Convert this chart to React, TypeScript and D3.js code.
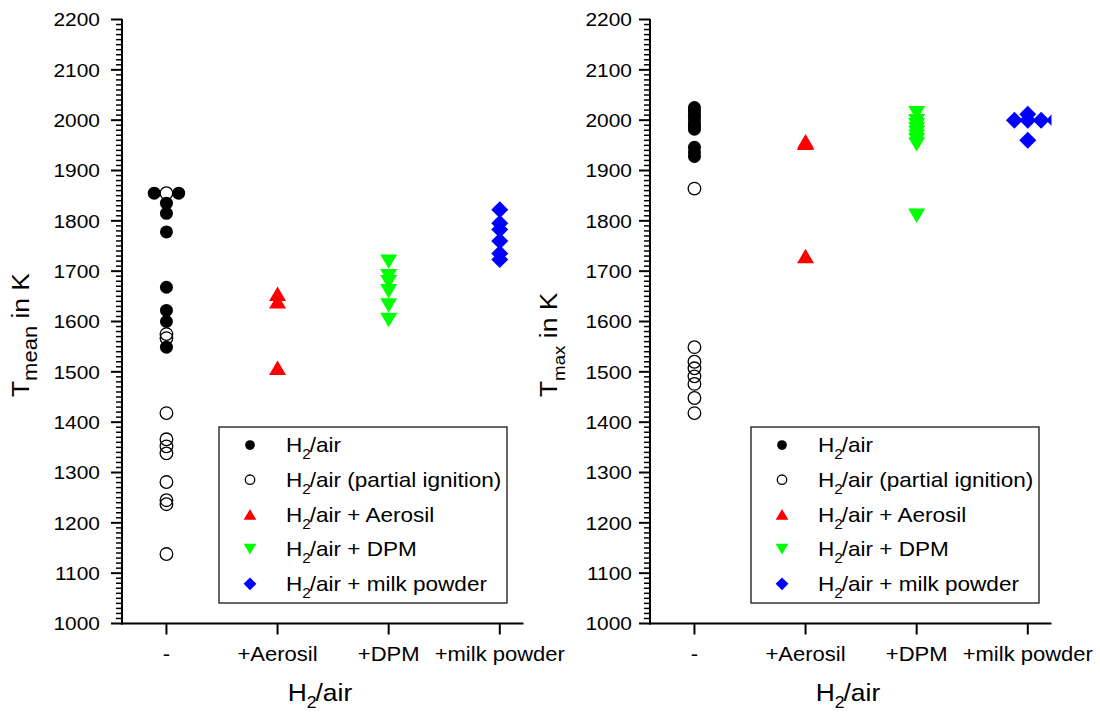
import React from 'react';
import * as d3 from 'd3';

// ---------- data ----------
const categories = ['-', '+Aerosil', '+DPM', '+milk powder'];
const yTickValues = [1000, 1100, 1200, 1300, 1400, 1500, 1600, 1700, 1800, 1900, 2000, 2100, 2200];

// [category position, temperature]
const meanH2Air: [number, number][] = [
  [0.89, 1855], [1.11, 1855], [1, 1835], [1, 1815], [1, 1778], [1, 1668], [1, 1622], [1, 1600], [1, 1549],
];
const meanPartial: [number, number][] = [
  [1, 1855], [1, 1575], [1, 1567], [1, 1418], [1, 1366], [1, 1352], [1, 1338], [1, 1281], [1, 1245], [1, 1237], [1, 1138],
];
const meanAerosil: [number, number][] = [[2, 1655], [2, 1640], [2, 1508]];
const meanDPM: [number, number][] = [[3, 1719], [3, 1690], [3, 1678], [3, 1660], [3, 1632], [3, 1603]];
const meanMilk: [number, number][] = [[4, 1822], [4, 1795], [4, 1783], [4, 1760], [4, 1735], [4, 1723]];

const maxH2Air: [number, number][] = [
  [1, 2025], [1, 2018], [1, 2010], [1, 2003], [1, 1995], [1, 1988], [1, 1982], [1, 1946], [1, 1937], [1, 1928],
];
const maxPartial: [number, number][] = [
  [1, 1864], [1, 1549], [1, 1520], [1, 1507], [1, 1491], [1, 1476], [1, 1448], [1, 1418],
];
const maxAerosil: [number, number][] = [[2, 1958], [2, 1955], [2, 1730]];
const maxDPM: [number, number][] = [
  [3, 2014], [3, 1998], [3, 1990], [3, 1982], [3, 1975], [3, 1967], [3, 1960], [3, 1952], [3, 1810],
];
const maxMilk: [number, number][] = [
  [3.88, 2000], [4, 2000], [4.12, 2000], [4.24, 2000], [4, 2012], [4, 1960],
];

const legendLabels = ['/air', '/air (partial ignition)', '/air + Aerosil', '/air + DPM', '/air + milk powder'];

// ---------- layout ----------
const W = 1100;
const HGT = 718;
const TOP = 19.5;
const BOTTOM = 623.5;
const FONT = 'Liberation Sans, Arial, Helvetica, sans-serif';
const STRETCH = 1.1;

type Shape = 'filled' | 'open' | 'up' | 'down' | 'diamond';

function markerPath(shape: Shape, cx: number, cy: number, k: number): string {
  if (shape === 'up') {
    const w = 8.5 * k, h = 7.2 * k;
    return `M${cx},${cy - h}L${cx + w},${cy + h}L${cx - w},${cy + h}Z`;
  }
  if (shape === 'down') {
    const w = 8.5 * k, h = 7.2 * k;
    return `M${cx - w},${cy - h}L${cx + w},${cy - h}L${cx},${cy + h}Z`;
  }
  const w = 8.5 * k, h = 8.5 * k;
  return `M${cx},${cy - h}L${cx + w},${cy}L${cx},${cy + h}L${cx - w},${cy}Z`;
}

function Marker({ shape, cx, cy, k = 1 }: { shape: Shape; cx: number; cy: number; k?: number }) {
  if (shape === 'filled') return <circle cx={cx} cy={cy} r={6.5 * k} fill="#000" />;
  if (shape === 'open') return <circle cx={cx} cy={cy} r={6.3 * k} fill="none" stroke="#000" strokeWidth={1.3} />;
  const color = shape === 'up' ? '#ff0000' : shape === 'down' ? '#00ff00' : '#0000ff';
  return <path d={markerPath(shape, cx, cy, k)} fill={color} />;
}

function SText({ x, y, size, anchor = 'start', rotate = false, children }: any) {
  return (
    <text
      transform={`translate(${x},${y})${rotate ? ' rotate(-90)' : ''} scale(${STRETCH},1)`}
      fontSize={size}
      fontFamily={FONT}
      textAnchor={anchor}
      fill="#000"
    >
      {children}
    </text>
  );
}

interface PanelProps {
  left: number;
  labelGap: number;
  sub: string;
  subSize: number;
  series: { shape: Shape; data: [number, number][] }[];
  legendX: number;
  id: string;
}

function Panel({ left, labelGap, sub, subSize, series, legendX, id }: PanelProps) {
  const x = d3.scaleLinear().domain([0.6, 4.2]).range([left, left + 400]);
  const y = d3.scaleLinear().domain([1000, 2200]).range([BOTTOM, TOP]);
  const minor = d3.range(1000, 2201, 10).filter((v) => v % 100 !== 0);
  const right = x(4.2);
  const legendRows = [445, 479.7, 514.4, 549.1, 583.8];
  const legendShapes: Shape[] = ['filled', 'open', 'up', 'down', 'diamond'];

  return (
    <g>
      <defs>
        <clipPath id={id}>
          <rect x={left} y={TOP - 10} width={right - left + 1.5} height={BOTTOM - TOP + 10} />
        </clipPath>
      </defs>
      <g clipPath={`url(#${id})`}>
        {series.map((s, i) => (
          <g key={i}>
            {s.data.map(([cx, cy], j) => (
              <Marker key={j} shape={s.shape} cx={x(cx)} cy={y(cy)} />
            ))}
          </g>
        ))}
      </g>
      {/* y axis */}
      <line x1={left} x2={left} y1={TOP - 0.5} y2={BOTTOM + 1} stroke="#000" strokeWidth={2} />
      {minor.map((v) => (
        <line key={v} x1={left - 6} x2={left} y1={y(v)} y2={y(v)} stroke="#000" strokeWidth={1.5} />
      ))}
      {yTickValues.map((v) => (
        <g key={v}>
          <line x1={left - 11} x2={left} y1={y(v)} y2={y(v)} stroke="#000" strokeWidth={2} />
          <SText x={left - labelGap} y={y(v) + 6.7} size={19} anchor="end">
            {v}
          </SText>
        </g>
      ))}
      {/* x axis */}
      <line x1={left - 1} x2={right + 1.5} y1={BOTTOM} y2={BOTTOM} stroke="#000" strokeWidth={2} />
      {categories.map((c, i) => (
        <g key={c}>
          <line x1={x(i + 1)} x2={x(i + 1)} y1={BOTTOM} y2={BOTTOM + 11} stroke="#000" strokeWidth={2} />
          <SText x={x(i + 1)} y={661} size={20} anchor="middle">
            {c}
          </SText>
        </g>
      ))}
      {/* axis titles */}
      <SText x={(left + right) / 2 - 2} y={701} size={24} anchor="middle">
        <tspan>H</tspan>
        <tspan fontSize={16} dy={7}>2</tspan>
        <tspan dy={-7} dx={-1}>/air</tspan>
      </SText>
      <SText x={left - 93} y={397} size={24} anchor="start" rotate>
        <tspan>T</tspan>
        <tspan fontSize={subSize} dy={8}>{sub}</tspan>
        <tspan dy={-8}> in K</tspan>
      </SText>
      {/* legend */}
      <rect x={legendX} y={427} width={288} height={176} fill="#fff" stroke="#000" strokeWidth={1.2} />
      {legendRows.map((ry, i) => (
        <g key={i}>
          <Marker shape={legendShapes[i]} cx={legendX + 31} cy={ry} k={0.75} />
          <SText x={legendX + 67} y={ry + 7.3} size={20.5}>
            <tspan>H</tspan>
            <tspan fontSize={14} dy={7}>2</tspan>
            <tspan dy={-7} dx={-1}>{legendLabels[i]}</tspan>
          </SText>
        </g>
      ))}
    </g>
  );
}

export default function App() {
  return (
    <svg
      width={W}
      height={HGT}
      viewBox={`0 0 ${W} ${HGT}`}
      style={{ position: 'absolute', left: 0, top: 0, background: '#fff' }}
    >
      <rect x={0} y={0} width={W} height={HGT} fill="#fff" />
      <Panel
        id="clipL"
        left={122}
        labelGap={22}
        sub="mean"
        subSize={20}
        legendX={219}
        series={[
          { shape: 'open', data: meanPartial },
          { shape: 'filled', data: meanH2Air },
          { shape: 'up', data: meanAerosil },
          { shape: 'down', data: meanDPM },
          { shape: 'diamond', data: meanMilk },
        ]}
      />
      <Panel
        id="clipR"
        left={650}
        labelGap={18}
        sub="max"
        subSize={17}
        legendX={751}
        series={[
          { shape: 'open', data: maxPartial },
          { shape: 'filled', data: maxH2Air },
          { shape: 'up', data: maxAerosil },
          { shape: 'down', data: maxDPM },
          { shape: 'diamond', data: maxMilk },
        ]}
      />
    </svg>
  );
}
